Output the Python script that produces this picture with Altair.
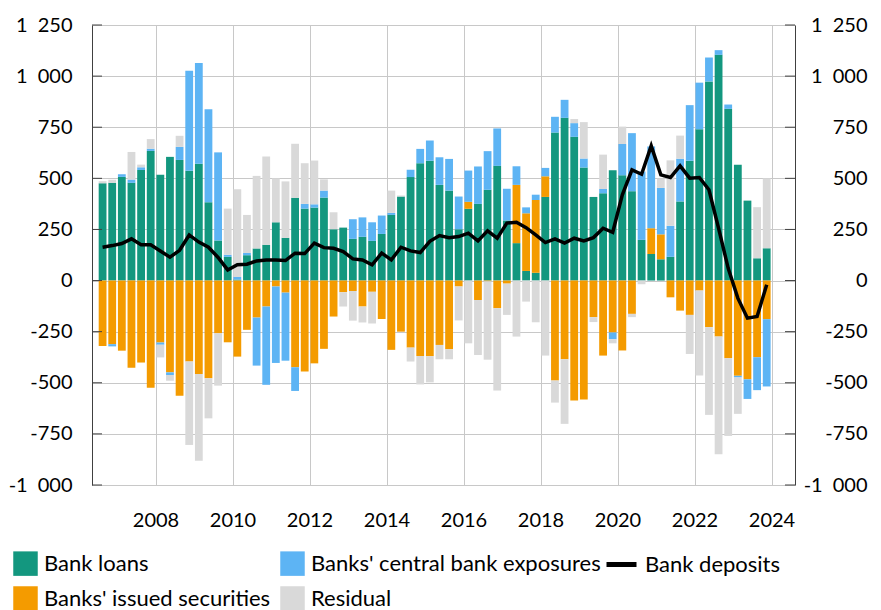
import altair as alt
import pandas as pd

# Quarters 2006Q3 .. 2023Q4
quarters = [f"{y}Q{q}" for y in range(2006, 2024) for q in range(1, 5)][2:]

bank_loans = [476, 478, 507, 478, 541, 634, 517, 605, 590, 537, 571, 383, 196, 116, 5, 124,
              157, 175, 285, 209, 405, 352, 357, 406, 251, 259, 204, 214, 194, 228, 321, 411,
              506, 574, 586, 468, 440, 251, 351, 375, 444, 561, 294, 183, 47, 38, 409, 724,
              796, 703, 553, 409, 427, 540, 515, 437, 199, 130, 104, 116, 387, 586, 740, 974,
              1104, 840, 566, 391, 109, 158]
issued_securities = [-320, -311, -343, -426, -401, -524, -303, -449, -563, -396, -457, -478, -258, -302, -372, -241,
                     -181, -127, -29, -59, -424, -445, -405, -334, -176, -57, -51, -127, -55, -188, -339, -250,
                     -328, -369, -370, -315, -336, -29, 34, -95, -4, -135, -15, 285, 282, 356, 101, -489,
                     -385, -587, -582, -179, -367, -254, -342, -163, 0, 126, 122, -82, -147, -168, -49, -228,
                     -274, -380, -466, -483, -375, -189]
cb_exposures = [0, -11, 13, 16, 13, 11, -11, -13, 64, 489, 493, 455, 431, 10, 13, 11,
                -235, -383, -374, -333, -116, 23, 16, 34, 0, 0, 96, 95, 91, 90, 10, 0,
                36, 70, 99, 135, 155, 160, 153, 183, 189, 183, 155, 91, 29, 26, 41, 77,
                88, 67, 44, 0, 21, -33, 153, 284, 334, 400, 227, 152, 209, 272, 228, 117,
                23, 21, -8, -96, -161, -329]
residual = [10, 15, 0, 135, 13, 47, -62, -28, 54, -408, -424, -196, -256, 226, 429, 186,
            355, 432, 215, 276, 264, 199, 214, 55, 83, -70, -145, -78, -155, 0, 109, 5,
            -68, -139, -128, -70, -49, -166, -307, -269, -383, -403, -153, -274, -103, -204, -367, -108,
            -316, 20, 178, -24, 168, -20, 85, -16, -18, 0, 46, 320, 113, -191, -416, -429,
            -576, -380, -178, 0, 250, 342]
bank_deposits = [163, 171, 181, 204, 175, 175, 145, 114, 148, 223, 188, 163, 113, 52, 77, 80,
                 96, 101, 101, 98, 134, 132, 183, 161, 158, 142, 106, 101, 77, 134, 101, 163,
                 145, 137, 192, 220, 210, 215, 232, 194, 243, 207, 281, 285, 259, 223, 186, 204,
                 183, 207, 194, 210, 256, 236, 419, 541, 520, 659, 517, 504, 561, 501, 504, 444,
                 256, 60, -86, -184, -176, -21]

series_names = ["Bank loans", "Banks' issued securities", "Banks' central bank exposures", "Residual"]
series_colors = ["#13977f", "#f49b00", "#5db4f4", "#d9d9d9"]
y_ticks = [-1000, -750, -500, -250, 0, 250, 500, 750, 1000, 1250]
x_ticks = [2008, 2010, 2012, 2014, 2016, 2018, 2020, 2022, 2024]


def qpos(q):
    y, n = q.split("Q")
    return int(y) + (int(n) - 1) / 4 + 0.125


rows = []
for k, (name, vals) in enumerate(zip(series_names, [bank_loans, issued_securities, cb_exposures, residual])):
    for q, v in zip(quarters, vals):
        rows.append({"quarter": q, "t": qpos(q), "series": name, "value": v, "ord": k})
bars_df = pd.DataFrame(rows)
dep_df = pd.DataFrame({"quarter": quarters, "t": [qpos(q) for q in quarters],
                       "deposits": bank_deposits, "label": "Bank deposits"})
tick_df = pd.DataFrame({"v": y_ticks})

FONT = "Lato"
W, H = 703, 460
label_expr = "(datum.value < 0 ? '-' : '') + replace(format(abs(datum.value), ','), ',', '\u2002')"

x_scale = alt.Scale(domain=[2006.48, 2024.48], nice=False, zero=False)
y_scale = alt.Scale(domain=[-1000, 1250], nice=False, zero=False)

x_axis = alt.Axis(values=x_ticks, format="d", grid=True, gridColor="#c8c8c8", gridWidth=1,
                  ticks=False, tickSize=0, domain=False, labelFont=FONT, labelFontSize=20,
                  labelColor="#000000", labelPadding=35, labelBaseline="middle",
                  labelFlush=False, title=None)
y_left = alt.Axis(orient="left", values=y_ticks, grid=True, gridColor="#c8c8c8", gridWidth=1,
                  ticks=False, tickSize=0, domain=True, domainColor="#404040", domainWidth=1,
                  labelExpr=label_expr, labelFont=FONT, labelFontSize=20, labelColor="#000000",
                  labelPadding=20, title=None)
y_right = alt.Axis(orient="right", values=y_ticks, grid=False, ticks=False, tickSize=0,
                   domain=True, domainColor="#404040", domainWidth=1, labelExpr=label_expr,
                   labelFont=FONT, labelFontSize=20, labelColor="#000000", labelAlign="right",
                   labelPadding=72, title=None)

bars = alt.Chart(bars_df).mark_bar(size=7.8).encode(
    x=alt.X("t:Q", scale=x_scale, axis=x_axis),
    y=alt.Y("value:Q", stack="zero", scale=y_scale, axis=y_left),
    color=alt.Color("series:N",
                    scale=alt.Scale(domain=series_names, range=series_colors),
                    legend=alt.Legend(title=None, orient="none", legendX=-79, legendY=526,
                                      columns=2, symbolType="square", symbolSize=600,
                                      symbolStrokeWidth=0, symbolOpacity=1,
                                      labelFont=FONT, labelFontSize=22, labelColor="#000000",
                                      labelOffset=6, labelLimit=500, columnPadding=9,
                                      rowPadding=10, padding=0)),
    order=alt.Order("ord:Q"),
)

line = alt.Chart(dep_df).mark_line(strokeWidth=3.5).encode(
    x=alt.X("t:Q", scale=x_scale, axis=x_axis),
    y=alt.Y("deposits:Q", scale=y_scale, axis=y_right),
    stroke=alt.Stroke("label:N", scale=alt.Scale(domain=["Bank deposits"], range=["#000000"]),
                      legend=alt.Legend(title=None, orient="none", legendX=512, legendY=522,
                                        symbolType="stroke", symbolSize=900,
                                        symbolStrokeWidth=5, labelFont=FONT, labelFontSize=22,
                                        labelColor="#000000", labelOffset=6, labelLimit=500,
                                        padding=0)),
)

ticks_left = alt.Chart(tick_df).mark_rule(color="#404040", strokeWidth=1).encode(
    y=alt.Y("v:Q", scale=y_scale, axis=None), x=alt.value(0), x2=alt.value(10))
ticks_right = alt.Chart(tick_df).mark_rule(color="#404040", strokeWidth=1).encode(
    y=alt.Y("v:Q", scale=y_scale, axis=None), x=alt.value(W - 10), x2=alt.value(W))

chart = alt.layer(bars, line, ticks_left, ticks_right).resolve_axis(y="independent").properties(
    width=W, height=H,
    autosize=alt.AutoSizeParams(type="none"),
    padding={"left": 84, "top": 17, "right": 78, "bottom": 125},
).configure(font=FONT).configure_view(stroke=None)

chart.save("out.html", embed_options={"renderer": "svg", "actions": False})
